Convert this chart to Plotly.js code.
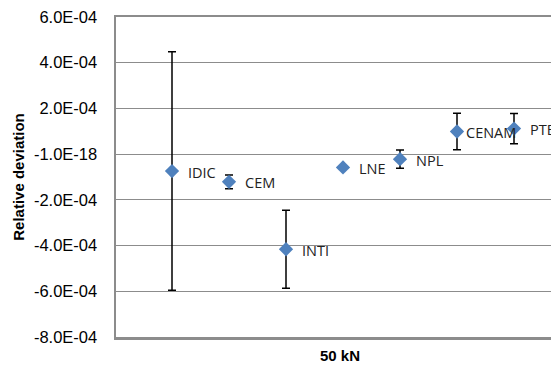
<!DOCTYPE html>
<html>
<head>
<meta charset="utf-8">
<script src="https://cdn.plot.ly/plotly-3.0.1.min.js"></script>
<style>
html,body{margin:0;padding:0;overflow:hidden;background:#fff;}
#chart{width:551px;height:365px;}
</style>
</head>
<body>
<div id="chart"></div>
<script>
// Data
const labs = ["IDIC", "CEM", "INTI", "LNE", "NPL", "CENAM", "PTB"];
const xpos = [1, 2, 3, 4, 5, 6, 7];
const dev = [-7.4e-5, -1.21e-4, -4.16e-4, -5.8e-5, -2.2e-5, 9.9e-5, 1.12e-4];
const unc = [5.22e-4, 3.0e-5, 1.71e-4, 5.0e-6, 4.0e-5, 8.0e-5, 6.6e-5];
const yTickVals = [6e-4, 4e-4, 2e-4, 0, -2e-4, -4e-4, -6e-4, -8e-4];
const yTickText = ["6.0E-04", "4.0E-04", "2.0E-04", "-1.0E-18", "-2.0E-04", "-4.0E-04", "-6.0E-04", "-8.0E-04"];

const trace = {
  type: "scatter",
  mode: "markers",
  x: xpos,
  y: dev,
  marker: {symbol: "diamond", size: 11, color: "#4F81BD"},
  error_y: {type: "data", array: unc, visible: true, color: "#000", thickness: 1.5, width: 4},
  cliponaxis: false,
  showlegend: false
};

// label placement style (Excel nudged the CENAM label closer)
const labelShift = {CENAM: 7};
const annotations = labs.map((t, i) => ({
  x: xpos[i], y: dev[i], xref: "x", yref: "y",
  text: t, showarrow: false, xanchor: "left", yanchor: "middle",
  xshift: (labelShift[t] !== undefined ? labelShift[t] : 14), yshift: -1,
  font: {family: "Open Sans, sans-serif", size: 14.5, color: "#222"}
}));
annotations.push({
  xref: "paper", yref: "paper", x: (340 - 116) / 435, y: 0, yshift: -18,
  xanchor: "center", yanchor: "middle", showarrow: false,
  text: "<b>50 kN</b>", font: {size: 15, family: "Arial, Liberation Sans, sans-serif", color: "#000"}
});

const layout = {
  width: 551, height: 365,
  margin: {l: 116, r: 0, t: 17, b: 28},
  paper_bgcolor: "#fff", plot_bgcolor: "#fff",
  font: {family: "Arial, Liberation Sans, sans-serif", color: "#000"},
  annotations: annotations,
  xaxis: {
    range: [1 - 56 / 57, 1 - 56 / 57 + 435 / 57], showticklabels: false, ticks: "", showgrid: false, zeroline: false,
    showline: true, linecolor: "#8c8c8c", linewidth: 2.5, mirror: true
  },
  yaxis: {
    range: [-8e-4, 6e-4], tickvals: yTickVals, ticktext: yTickText,
    tickfont: {size: 16.5, family: "Arial, Liberation Sans, sans-serif"},
    ticks: "", ticklabelstandoff: 13,
    showgrid: true, gridcolor: "#8c8c8c", gridwidth: 1, zeroline: false,
    showline: true, linecolor: "#8c8c8c", linewidth: 2.5, mirror: false,
    title: {text: "Relative deviation", font: {size: 15, family: "Arial, Liberation Sans, sans-serif", weight: "bold"}, standoff: 6}
  }
};

Plotly.newPlot("chart", [trace], layout, {displayModeBar: false, staticPlot: true});
</script>
</body>
</html>
